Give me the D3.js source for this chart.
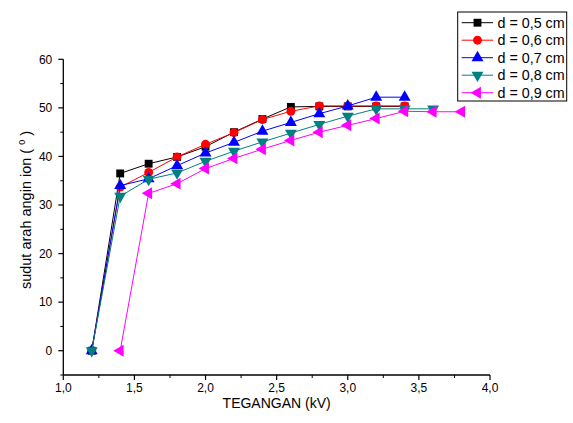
<!DOCTYPE html>
<html>
<head>
<meta charset="utf-8">
<script src="https://cdn.jsdelivr.net/npm/d3@7"></script>
<style>
  body { margin: 0; background: #fff; }
  svg { font-family: "Liberation Sans", Arial, sans-serif; }
</style>
</head>
<body>
<div id="chart"></div>
<script>
// Data
var voltage = [1.2, 1.4, 1.6, 1.8, 2.0, 2.2, 2.4, 2.6, 2.8, 3.0, 3.2, 3.4, 3.6, 3.8];
var d05 = [0, 36.5, 38.5, 39.9, 42.0, 45.0, 47.7, 50.2, 50.3, 50.3, 50.3, 50.3];
var d06 = [0, 33.7, 36.7, 39.9, 42.5, 44.9, 47.6, 49.3, 50.4, 50.4, 50.4, 50.4];
var d07 = [0, 34.0, 35.4, 38.1, 40.7, 42.9, 45.2, 47.0, 48.8, 50.4, 52.2, 52.2];
var d08 = [0, 31.8, 35.3, 36.6, 39.0, 41.1, 43.0, 44.8, 46.6, 48.3, 49.8, 49.8, 49.8];
var d09 = [null, 0, 32.4, 34.4, 37.5, 39.6, 41.5, 43.3, 45.0, 46.4, 47.8, 49.3, 49.2, 49.2];
var seriesNames = ["d = 0,5 cm", "d = 0,6 cm", "d = 0,7 cm", "d = 0,8 cm", "d = 0,9 cm"];
var seriesColors = ["#000000", "#ff0000", "#0000ff", "#008080", "#ff00ff"];
var xTicks = [1.0, 1.5, 2.0, 2.5, 3.0, 3.5, 4.0];
var yTicks = [0, 10, 20, 30, 40, 50, 60];

function draw() {
  "use strict";
  var width = 573, height = 423;
  var svg = d3.select('#chart').append('svg')
              .attr('width', width).attr('height', height);

  var xScale = d3.scaleLinear().domain([1.0, 4.0]).range([63.3, 490]);
  var yScale = d3.scaleLinear().domain([-5, 60]).range([375, 59.3]);

  // minor ticks
  var xMinor = d3.range(1.25, 4.0, 0.5);
  var yMinor = d3.range(-5, 60, 10);

  var gx = svg.append('g').attr('transform', 'translate(0,' + 375 + ')');
  gx.append('line').attr('x1', xScale(1.0)).attr('x2', xScale(4.0))
    .attr('stroke', '#000').attr('stroke-width', 1.3);
  gx.selectAll('.maj').data(xTicks).enter().append('line')
    .attr('x1', xScale).attr('x2', xScale).attr('y1', 0).attr('y2', 5)
    .attr('stroke', '#000').attr('stroke-width', 1.2);
  gx.selectAll('.min').data(xMinor).enter().append('line')
    .attr('x1', xScale).attr('x2', xScale).attr('y1', 0).attr('y2', 3)
    .attr('stroke', '#000');
  gx.selectAll('text').data(xTicks).enter().append('text')
    .attr('x', xScale).attr('y', 17).attr('text-anchor', 'middle')
    .attr('font-size', 12)
    .text(function(d) { return d3.format('.1f')(d).replace('.', ','); });

  var gy = svg.append('g').attr('transform', 'translate(' + 63.3 + ',0)');
  gy.append('line').attr('y1', yScale(-5)).attr('y2', yScale(60))
    .attr('stroke', '#000').attr('stroke-width', 1.3);
  gy.selectAll('.maj').data(yTicks).enter().append('line')
    .attr('y1', yScale).attr('y2', yScale).attr('x1', 0).attr('x2', -5)
    .attr('stroke', '#000').attr('stroke-width', 1.2);
  gy.selectAll('.min').data(yMinor).enter().append('line')
    .attr('y1', yScale).attr('y2', yScale).attr('x1', 0).attr('x2', -3)
    .attr('stroke', '#000');
  gy.selectAll('text').data(yTicks).enter().append('text')
    .attr('x', -11).attr('y', function(d) { return yScale(d) + 4.3; })
    .attr('text-anchor', 'end').attr('font-size', 12)
    .text(function(d) { return d; });

  // axis titles
  svg.append('text').attr('x', xScale(2.5)).attr('y', 408)
     .attr('text-anchor', 'middle').attr('font-size', 14)
     .text('TEGANGAN (kV)');
  var yt = svg.append('text')
     .attr('transform', 'translate(31,' + 210 + ') rotate(-90)')
     .attr('text-anchor', 'middle').attr('font-size', 14.5);
  yt.append('tspan').text('sudut arah angin ion ( ');
  yt.append('tspan').attr('dy', -6).attr('font-size', 9).text('0');
  yt.append('tspan').attr('dy', 6).text(' )');

  // markers
  var sym = [d3.symbolSquare, d3.symbolCircle, d3.symbolTriangle, d3.symbolTriangle, d3.symbolTriangle];
  var rot = [0, 0, 0, 180, -90];
  var sizes = [62, 62, 62, 62, 62];

  var allSeries = [d05, d06, d07, d08, d09];
  var line = d3.line()
               .defined(function(d) { return d.v !== null; })
               .x(function(d) { return xScale(d.x); })
               .y(function(d) { return yScale(d.v); });

  allSeries.forEach(function(vals, i) {
    var pts = vals.map(function(v, j) { return { x: voltage[j], v: v }; });
    var g = svg.append('g');
    g.append('path').datum(pts).attr('d', line)
     .attr('fill', 'none').attr('stroke', seriesColors[i]).attr('stroke-width', 1);
    g.selectAll('path.m').data(pts.filter(function(p) { return p.v !== null; }))
     .enter().append('path').attr('class', 'm')
     .attr('d', d3.symbol().type(sym[i]).size(sizes[i]))
     .attr('transform', function(p) {
        return 'translate(' + xScale(p.x) + ',' + yScale(p.v) + ') rotate(' + rot[i] + ')';
     })
     .attr('fill', seriesColors[i]);
  });

  // legend
  var lg = svg.append('g');
  lg.append('rect').attr('x', 457.7).attr('y', 12).attr('width', 109).attr('height', 89)
    .attr('fill', '#fff').attr('stroke', '#000').attr('stroke-width', 1);
  seriesNames.forEach(function(name, i) {
    var yy = 22.7 + i * 17.5;
    lg.append('line').attr('x1', 461.7).attr('x2', 493).attr('y1', yy).attr('y2', yy)
      .attr('stroke', seriesColors[i]);
    lg.append('path').attr('d', d3.symbol().type(sym[i]).size(sizes[i]))
      .attr('transform', 'translate(477.5,' + yy + ') rotate(' + rot[i] + ')')
      .attr('fill', seriesColors[i]);
    lg.append('text').attr('x', 497.5).attr('y', yy + 5).attr('font-size', 14.3)
      .text(name);
  });
}

draw();
</script>
</body>
</html>
